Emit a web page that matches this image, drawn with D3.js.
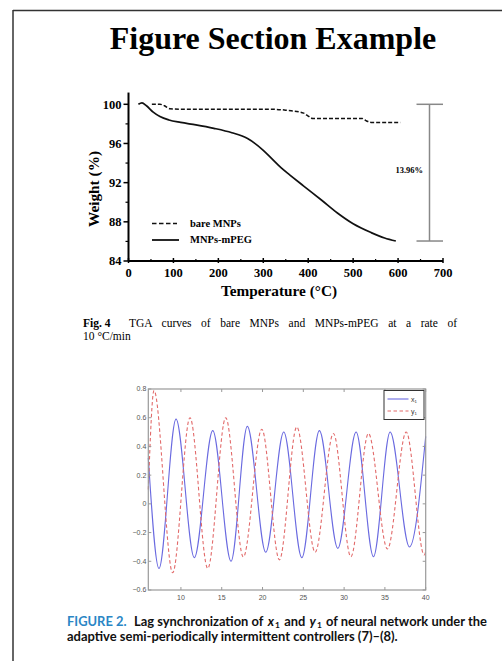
<!DOCTYPE html>
<html>
<head>
<meta charset="utf-8">
<script src="https://cdn.jsdelivr.net/npm/d3@7"></script>
<style>
html, body { margin: 0; padding: 0; background: #fff; }
svg { display: block; }
</style>
</head>
<body>
<svg id="page" width="502" height="661"></svg>
<script>
// ---- Fig. 4 (TGA) data ----
var bareTemp   = [52, 70, 80, 92, 120, 200, 317, 350, 390, 400, 410, 520, 530, 540, 605];
var bareWeight = [100.0, 100.0, 99.85, 99.55, 99.5, 99.5, 99.5, 99.4, 99.1, 98.8, 98.55, 98.55, 98.3, 98.15, 98.15];
var pegTemp    = [22, 30, 40, 55, 70, 90, 116, 150, 190, 230, 265, 300, 320, 340, 360, 390, 430, 465, 500, 540, 570, 595];
var pegWeight  = [100.0, 100.15, 99.85, 99.2, 98.75, 98.4, 98.15, 97.9, 97.55, 97.1, 96.5, 95.3, 94.4, 93.5, 92.75, 91.65, 90.2, 88.9, 87.8, 86.9, 86.35, 86.04];
var tgaXTicks = [0, 100, 200, 300, 400, 500, 600, 700];
var tgaYTicks = [84, 88, 92, 96, 100];
var tgaLegend = ["bare MNPs", "MNPs-mPEG"];
var lossLabel = "13.96%";

// ---- FIGURE 2 (lag synchronization) data: extrema ----
var x1Time  = [6.0, 7.31, 9.40, 11.64, 13.90, 16.14, 18.14, 20.40, 22.6, 24.82, 26.97, 29.23, 31.47, 33.60, 35.64, 38.01, 40.0];
var x1Value = [0.32, -0.45, 0.59, -0.375, 0.51, -0.40, 0.54, -0.337, 0.50, -0.375, 0.51, -0.31, 0.50, -0.368, 0.50, -0.30, 0.47];
var y1Time  = [6.0, 6.70, 8.99, 11.11, 13.29, 15.49, 17.65, 19.91, 22.07, 24.20, 26.45, 28.69, 30.83, 32.98, 35.31, 37.61, 39.82, 40.0];
var y1Value = [0.10, 0.79, -0.48, 0.60, -0.45, 0.60, -0.37, 0.52, -0.39, 0.535, -0.337, 0.49, -0.368, 0.49, -0.314, 0.50, -0.356, -0.33];
var lagXTicks = [10, 15, 20, 25, 30, 35, 40];
var lagYTicks = [-0.6, -0.4, -0.2, 0, 0.2, 0.4, 0.6, 0.8];

var svg = d3.select("#page");
var serif = "'Liberation Serif', 'Times New Roman', serif";
var sans = "'Liberation Sans', Arial, sans-serif";

// page frame
svg.append("line").attr("x1", 13).attr("y1", 10.5).attr("x2", 502).attr("y2", 10.5)
	.attr("stroke", "#333").attr("stroke-width", 1.5);
svg.append("line").attr("x1", 13).attr("y1", 10).attr("x2", 13).attr("y2", 661)
	.attr("stroke", "#333").attr("stroke-width", 1.5);

svg.append("text")
	.attr("x", 273).attr("y", 49)
	.attr("text-anchor", "middle")
	.style("font-family", serif).style("font-weight", "bold").style("font-size", "32px")
	.text("Figure Section Example");

// ================= Fig. 4 =================
var tx = d3.scaleLinear().domain([0, 700]).range([128.5, 443]);
var ty = d3.scaleLinear().domain([84, 100]).range([261, 104.3]);
var g1 = svg.append("g");

// axes lines
g1.append("line").attr("x1", tx(0)).attr("x2", tx(0)).attr("y1", ty(84)).attr("y2", ty(101.2))
	.attr("stroke", "#000").attr("stroke-width", 2);
g1.append("line").attr("x1", tx(0)).attr("x2", tx(700)).attr("y1", ty(84)).attr("y2", ty(84))
	.attr("stroke", "#000").attr("stroke-width", 2);

// y ticks
tgaYTicks.forEach(function(v) {
	g1.append("line").attr("x1", tx(0) - 5).attr("x2", tx(0)).attr("y1", ty(v)).attr("y2", ty(v))
		.attr("stroke", "#000").attr("stroke-width", 1.5);
	g1.append("text").attr("x", tx(0) - 7).attr("y", ty(v)).attr("dy", "0.35em")
		.attr("text-anchor", "end")
		.style("font-family", serif).style("font-weight", "bold").style("font-size", "12.5px")
		.text(v);
});
d3.range(86, 100, 4).forEach(function(v) {
	g1.append("line").attr("x1", tx(0) - 3).attr("x2", tx(0)).attr("y1", ty(v)).attr("y2", ty(v))
		.attr("stroke", "#000").attr("stroke-width", 1.2);
});
// x ticks
tgaXTicks.forEach(function(v) {
	g1.append("line").attr("x1", tx(v)).attr("x2", tx(v)).attr("y1", ty(84) - 3).attr("y2", ty(84) + 2)
		.attr("stroke", "#000").attr("stroke-width", 1.5);
	g1.append("text").attr("x", tx(v)).attr("y", 277)
		.attr("text-anchor", "middle")
		.style("font-family", serif).style("font-weight", "bold").style("font-size", "12.5px")
		.text(v);
});
d3.range(50, 700, 100).forEach(function(v) {
	g1.append("line").attr("x1", tx(v)).attr("x2", tx(v)).attr("y1", ty(84) - 2).attr("y2", ty(84))
		.attr("stroke", "#000").attr("stroke-width", 1.2);
});

g1.append("text").attr("x", 279).attr("y", 296)
	.attr("text-anchor", "middle")
	.style("font-family", serif).style("font-weight", "bold").style("font-size", "15.3px")
	.text("Temperature (\u00B0C)");
g1.append("text").attr("transform", "translate(99,189) rotate(-90)")
	.attr("text-anchor", "middle")
	.style("font-family", serif).style("font-weight", "bold").style("font-size", "15.3px")
	.text("Weight (%)");

var tgaLine = d3.line()
	.x(function(d) { return tx(d[0]); })
	.y(function(d) { return ty(d[1]); })
	.curve(d3.curveMonotoneX);

g1.append("path").datum(d3.zip(bareTemp, bareWeight))
	.attr("d", tgaLine).attr("fill", "none")
	.attr("stroke", "#111").attr("stroke-width", 1.5).attr("stroke-dasharray", "4,2");
g1.append("path").datum(d3.zip(pegTemp, pegWeight))
	.attr("d", tgaLine).attr("fill", "none")
	.attr("stroke", "#111").attr("stroke-width", 1.7);

// legend
var legY = [223.5, 240];
tgaLegend.forEach(function(name, i) {
	g1.append("line").attr("x1", 152).attr("x2", i ? 179 : 177).attr("y1", legY[i]).attr("y2", legY[i])
		.attr("stroke", "#111").attr("stroke-width", i ? 1.8 : 1.6)
		.attr("stroke-dasharray", i ? null : "4.5,2.5");
	g1.append("text").attr("x", 190).attr("y", legY[i]).attr("dy", "0.33em")
		.style("font-family", serif).style("font-weight", "bold").style("font-size", "10.5px")
		.text(name);
});

// mass loss bracket
var bx = 429.5;
g1.append("line").attr("x1", bx).attr("x2", bx).attr("y1", ty(100)).attr("y2", ty(86.04))
	.attr("stroke", "#888").attr("stroke-width", 1.5);
[100, 86.04].forEach(function(v) {
	g1.append("line").attr("x1", 416.5).attr("x2", 443).attr("y1", ty(v)).attr("y2", ty(v))
		.attr("stroke", "#888").attr("stroke-width", 1.5);
});
g1.append("text").attr("x", 423).attr("y", 170).attr("dy", "0.35em")
	.attr("text-anchor", "end")
	.style("font-family", serif).style("font-weight", "bold").style("font-size", "8.5px")
	.text(lossLabel);

// caption, first line justified between the label and the right margin
svg.append("text").attr("x", 83).attr("y", 327)
	.style("font-family", serif).style("font-size", "11.5px").style("font-weight", "bold")
	.text("Fig. 4");
var cap1 = svg.append("text").attr("x", 129).attr("y", 327)
	.style("font-family", serif).style("font-size", "11.5px")
	.text("TGA curves of bare MNPs and MNPs-mPEG at a rate of");
var natural = cap1.node().getComputedTextLength();
cap1.style("word-spacing", ((457 - 129 - natural) / 10) + "px");
svg.append("text").attr("x", 83).attr("y", 340)
	.style("font-family", serif).style("font-size", "11.5px")
	.text("10 \u00B0C/min");

// ================= FIGURE 2 =================
var lx = d3.scaleLinear().domain([6, 40]).range([148.3, 425.7]);
var ly = d3.scaleLinear().domain([-0.6, 0.8]).range([590, 389]);
var g2 = svg.append("g");

var lagLine = d3.line()
	.x(function(d) { return lx(d[0]); })
	.y(function(d) { return ly(d[1]); })
	.curve(d3.curveMonotoneX);

g2.append("path").datum(d3.zip(x1Time, x1Value))
	.attr("d", lagLine).attr("fill", "none")
	.attr("stroke", "#6a6ae0").attr("stroke-width", 1.1);
g2.append("path").datum(d3.zip(y1Time, y1Value))
	.attr("d", lagLine).attr("fill", "none")
	.attr("stroke", "#e26a6a").attr("stroke-width", 1.1).attr("stroke-dasharray", "3.5,2.5");

// box + inward ticks
g2.append("rect").attr("x", lx(6)).attr("y", ly(0.8))
	.attr("width", lx(40) - lx(6)).attr("height", ly(-0.6) - ly(0.8))
	.attr("fill", "none").attr("stroke", "#999").attr("stroke-width", 1.2);
lagYTicks.forEach(function(v) {
	g2.append("line").attr("x1", lx(6)).attr("x2", lx(6) + 3).attr("y1", ly(v)).attr("y2", ly(v))
		.attr("stroke", "#999").attr("stroke-width", 1);
	g2.append("line").attr("x1", lx(40) - 3).attr("x2", lx(40)).attr("y1", ly(v)).attr("y2", ly(v))
		.attr("stroke", "#999").attr("stroke-width", 1);
	g2.append("text").attr("x", lx(6) - 2).attr("y", ly(v)).attr("dy", "0.35em")
		.attr("text-anchor", "end")
		.style("font-family", sans).style("font-size", "7px").attr("fill", "#555")
		.text(d3.format("")(v));
});
lagXTicks.forEach(function(v) {
	g2.append("line").attr("x1", lx(v)).attr("x2", lx(v)).attr("y1", ly(-0.6)).attr("y2", ly(-0.6) - 3)
		.attr("stroke", "#999").attr("stroke-width", 1);
	g2.append("line").attr("x1", lx(v)).attr("x2", lx(v)).attr("y1", ly(0.8)).attr("y2", ly(0.8) + 3)
		.attr("stroke", "#999").attr("stroke-width", 1);
	g2.append("text").attr("x", lx(v)).attr("y", 600)
		.attr("text-anchor", "middle")
		.style("font-family", sans).style("font-size", "7px").attr("fill", "#555")
		.text(v);
});

// legend box
g2.append("rect").attr("x", 384).attr("y", 390.5).attr("width", 40).attr("height", 29)
	.attr("fill", "#fff").attr("stroke", "#333").attr("stroke-width", 1);
var lagNames = ["x\u2081", "y\u2081"];
var lagColors = ["#6a6ae0", "#e26a6a"];
lagNames.forEach(function(n, i) {
	var yy = 399 + i * 12;
	g2.append("line").attr("x1", 387.5).attr("x2", 408.5).attr("y1", yy).attr("y2", yy)
		.attr("stroke", lagColors[i]).attr("stroke-width", 1.1)
		.attr("stroke-dasharray", i ? "3.5,2.5" : null);
	g2.append("text").attr("x", 411).attr("y", yy + 2.5)
		.style("font-family", sans).style("font-size", "7px").attr("fill", "#333")
		.text(n);
});

// caption 2: pieces laid end to end, then squeezed to the printed width
function capLine(y, width, pieces) {
	var g = svg.append("g");
	var cx = 0;
	pieces.forEach(function(p) {
		var t = g.append("text").attr("x", cx).attr("y", p.sub ? 2 : 0)
			.style("font-family", "Lato, 'Noto Sans', sans-serif").style("font-weight", "bold")
			.style("font-size", p.sub ? "8px" : "12.3px")
			.style("font-style", p.italic ? "italic" : "normal")
			.attr("fill", p.fill || "#111")
			.text(p.text);
		cx += t.node().getComputedTextLength() + (p.gap || 0);
	});
	g.attr("transform", "translate(67," + y + ") scale(" + (width / cx) + ",1)");
}
capLine(625.5, 420, [
	{text: "FIGURE 2.", fill: "#2a86c5", gap: 7},
	{text: "Lag synchronization of", gap: 4},
	{text: "x", italic: true, gap: 1},
	{text: "1", sub: true, gap: 4},
	{text: "and", gap: 4},
	{text: "y", italic: true, gap: 1},
	{text: "1", sub: true, gap: 4},
	{text: "of neural network under the"}
]);
capLine(640.5, 331, [
	{text: "adaptive semi-periodically intermittent controllers (7)\u2013(8)."}
]);
</script>
</body>
</html>
